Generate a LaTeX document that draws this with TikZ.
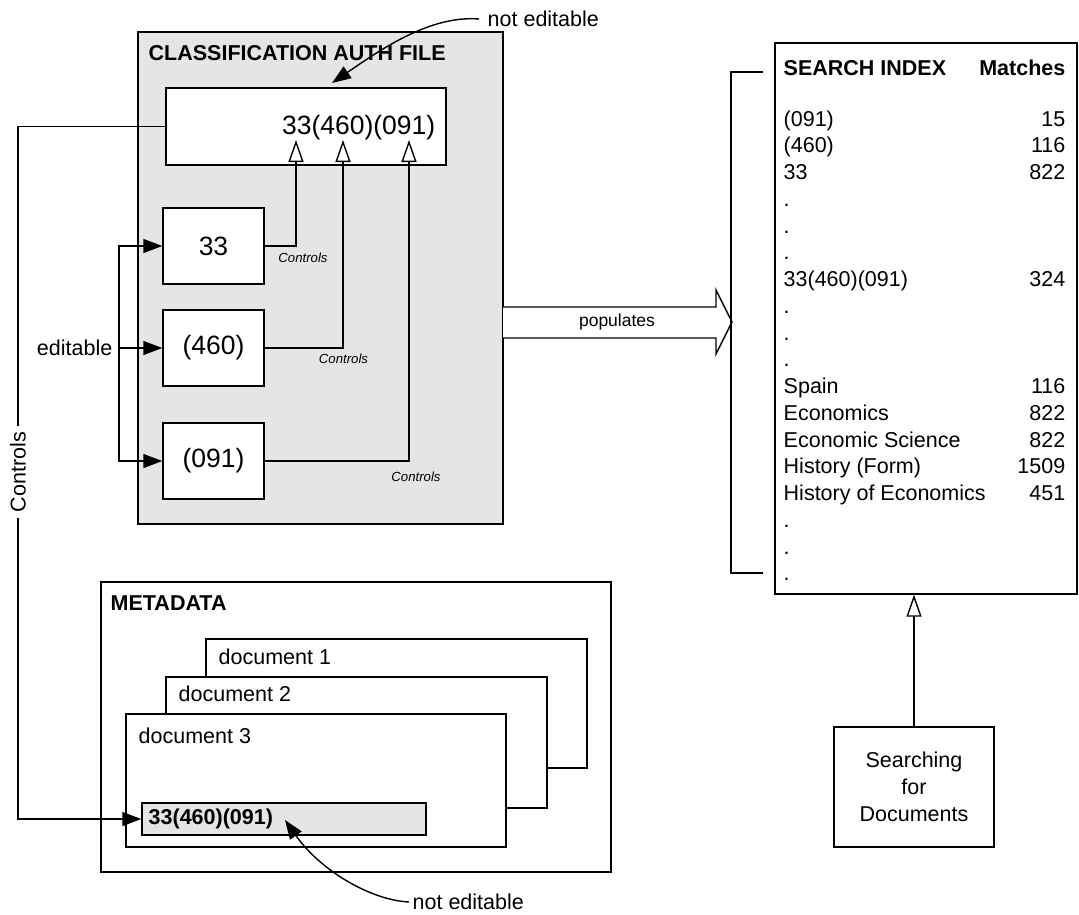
\documentclass[tikz,border=0pt]{standalone}
\usepackage{fontspec}
\setmainfont{Liberation Sans}
\usetikzlibrary{arrows.meta,calc}

\tikzset{
  frame/.style={draw=black, inner sep=0pt},
  txt/.style={font=\fontsize{21.5}{26.7}\selectfont, inner sep=0pt},
  ttl/.style={font=\fontsize{21.5}{26.7}\selectfont\bfseries, inner sep=0pt},
  code/.style={font=\fontsize{26.5}{30}\selectfont, inner sep=0pt},
  ctl/.style={font=\fontsize{13.2}{15}\selectfont\itshape, inner sep=0pt},
  pop/.style={font=\fontsize{17.5}{20}\selectfont, inner sep=0pt},
  filltip/.style={-{Triangle[length=19pt,width=14pt]}},
  opentip/.style={-{Triangle[fill=white,length=22pt,width=15pt]}},
}

\begin{document}
\begin{tikzpicture}[x=1pt,y=-1pt,line width=1.4pt]
\useasboundingbox (0,0) rectangle (1079,914);

% ---------- classification authority file ----------
\node[frame, fill=black!10, minimum width=365pt, minimum height=492pt] (cls) at (320.5,278) {};
\node[ttl, anchor=west] (clsT) at (148,53) {CLASSIFICATION AUTH FILE};

\node[frame, fill=white, minimum width=280pt, minimum height=77pt] (top) at (306,126.5) {};
\node[code, anchor=east] (topcode) at (436,128) {33(460)(091)};

\node[frame, code, fill=white, minimum width=101pt, minimum height=76pt] (b33)  at (213.5,246) {33};
\node[frame, code, fill=white, minimum width=101pt, minimum height=76pt] (b460) at (213.5,348) {(460)};
\node[frame, code, fill=white, minimum width=101pt, minimum height=76pt] (b091) at (213.5,461) {(091)};

\coordinate (h1) at (296,140);
\coordinate (h2) at (343,140);
\coordinate (h3) at (409,140);
\draw[opentip] (b33.east)  -| (h1);
\draw[opentip] (b460.east) -| (h2);
\draw[opentip] (b091.east) -| (h3);

\node[ctl] (c1) at (303,258) {Controls};
\node[ctl] (c2) at (343.5,359) {Controls};
\node[ctl] (c3) at (416,477) {Controls};

% editable inputs
\node[txt, anchor=east, inner xsep=6pt] (edl) at (119,348) {editable};
\draw[filltip] (edl.east) |- (b33.west);
\draw[filltip] (edl.east) -- (b460.west);
\draw[filltip] (edl.east) |- (b091.west);

% not editable (top)
\node[txt, anchor=west, inner xsep=8pt] (ne1) at (479,19) {not editable};
\coordinate (na1) at (332,83);
\draw[filltip] (ne1.west) .. controls (430,15) and (380,50) .. (na1);

% ---------- populates arrow ----------
\draw[fill=white] (503,307) -- (716,307) -- (716,290) -- (732,322) -- (716,354) -- (716,338) -- (503,338);
\node[pop] (popl) at (617,322) {populates};

% ---------- search index ----------
\node[frame, fill=white, minimum width=302pt, minimum height=551pt] (idx) at (926,318.5) {};
\draw (763,72) -- (731,72) -- (731,573) -- (763,573);

\node[ttl, anchor=base west] (hdrA) at (783,75.7) {SEARCH INDEX};
\node[ttl, anchor=base east] (hdrB) at (1066,75.7) {Matches};

\node[txt, anchor=base west] (k1)  at (783,126)    {(091)};
\node[txt, anchor=base east] (m1)  at (1066,126)   {15};
\node[txt, anchor=base west] (k2)  at (783,152.75) {(460)};
\node[txt, anchor=base east] (m2)  at (1066,152.75) {116};
\node[txt, anchor=base west] (k3)  at (783,179.5)  {33};
\node[txt, anchor=base east] (m3)  at (1066,179.5) {822};
\node[txt, anchor=base west] (k4)  at (783,206.25) {.};
\node[txt, anchor=base west] (k5)  at (783,233)    {.};
\node[txt, anchor=base west] (k6)  at (783,259.75) {.};
\node[txt, anchor=base west] (k7)  at (783,286.5)  {33(460)(091)};
\node[txt, anchor=base east] (m7)  at (1066,286.5) {324};
\node[txt, anchor=base west] (k8)  at (783,313.25) {.};
\node[txt, anchor=base west] (k9)  at (783,340)    {.};
\node[txt, anchor=base west] (k10) at (783,366.75) {.};
\node[txt, anchor=base west] (k11) at (783,393.5)  {Spain};
\node[txt, anchor=base east] (m11) at (1066,393.5) {116};
\node[txt, anchor=base west] (k12) at (783,420.25) {Economics};
\node[txt, anchor=base east] (m12) at (1066,420.25) {822};
\node[txt, anchor=base west] (k13) at (783,447)    {Economic Science};
\node[txt, anchor=base east] (m13) at (1066,447)   {822};
\node[txt, anchor=base west] (k14) at (783,473.75) {History (Form)};
\node[txt, anchor=base east] (m14) at (1066,473.75) {1509};
\node[txt, anchor=base west] (k15) at (783,500.5)  {History of Economics};
\node[txt, anchor=base east] (m15) at (1066,500.5) {451};
\node[txt, anchor=base west] (k16) at (783,527.25) {.};
\node[txt, anchor=base west] (k17) at (783,554)    {.};
\node[txt, anchor=base west] (k18) at (783,580.75) {.};

% searching
\node[frame, txt, fill=white, align=center, minimum width=160pt, minimum height=120pt] (sfd) at (914,787) {Searching\\for\\Documents};
\draw[opentip] (sfd.north) -- (sfd.north |- idx.south);

% ---------- metadata ----------
\node[frame, fill=white, minimum width=510pt, minimum height=290pt] (meta) at (356,727) {};
\node[ttl, anchor=west] (metaT) at (110,603) {METADATA};

\node[frame, fill=white, minimum width=381pt, minimum height=129pt] (d1) at (396.5,703.5) {};
\node[txt, anchor=west] (d1T) at (218,657) {document 1};
\node[frame, fill=white, minimum width=381pt, minimum height=131pt] (d2) at (356.5,742.5) {};
\node[txt, anchor=west] (d2T) at (178,694) {document 2};
\node[frame, fill=white, minimum width=380pt, minimum height=133pt] (d3) at (316,780.5) {};
\node[txt, anchor=west] (d3T) at (138,736) {document 3};

\node[frame, fill=black!10, minimum width=284pt, minimum height=32pt] (field) at (284,819) {};
\node[ttl, anchor=west] (fieldT) at (148,819) {33(460)(091)};

% not editable (bottom)
\node[txt, anchor=west, inner xsep=3pt] (ne2) at (409,902) {not editable};
\coordinate (na2) at (285,820);
\draw[filltip] (ne2.west) .. controls (370,900) and (320,870) .. (na2);

% ---------- controls link from the authority record ----------
\coordinate (ctlx) at (18,0);
\draw[filltip] (top.west) -- (top.west -| ctlx) |- (field.west);
\node[txt, rotate=90, fill=white, inner xsep=6pt, inner ysep=2pt] (ctlv) at (18,472) {Controls};

\end{tikzpicture}
\end{document}
